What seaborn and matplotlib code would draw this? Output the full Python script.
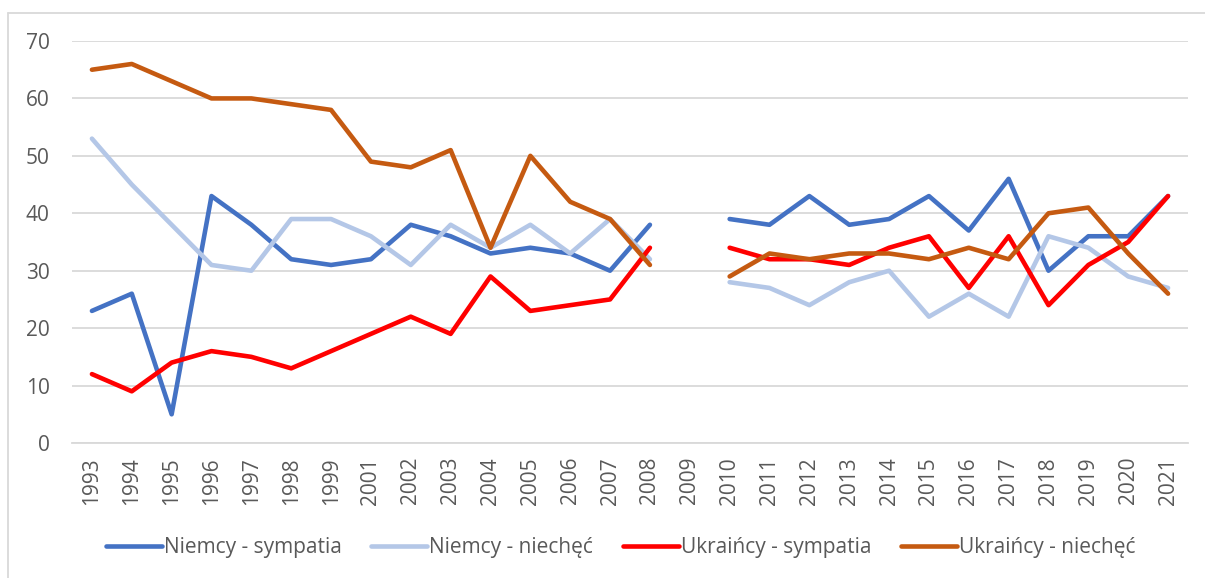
import numpy as np
import pandas as pd
import matplotlib.pyplot as plt
import seaborn as sns
from matplotlib.lines import Line2D

# --- Data ---
years = ['1993', '1994', '1995', '1996', '1997', '1998', '1999', '2001', '2002', '2003',
         '2004', '2005', '2006', '2007', '2008', '2009', '2010', '2011', '2012', '2013',
         '2014', '2015', '2016', '2017', '2018', '2019', '2020', '2021']

niemcy_sympatia = [23, 26, 5, 43, 38, 32, 31, 32, 38, 36, 33, 34, 33, 30, 38, np.nan,
                   39, 38, 43, 38, 39, 43, 37, 46, 30, 36, 36, 43]
niemcy_niechec = [53, 45, 38, 31, 30, 39, 39, 36, 31, 38, 34, 38, 33, 39, 32, np.nan,
                  28, 27, 24, 28, 30, 22, 26, 22, 36, 34, 29, 27]
ukraincy_sympatia = [12, 9, 14, 16, 15, 13, 16, 19, 22, 19, 29, 23, 24, 25, 34, np.nan,
                     34, 32, 32, 31, 34, 36, 27, 36, 24, 31, 35, 43]
ukraincy_niechec = [65, 66, 63, 60, 60, 59, 58, 49, 48, 51, 34, 50, 42, 39, 31, np.nan,
                    29, 33, 32, 33, 33, 32, 34, 32, 40, 41, 33, 26]

series_names = ['Niemcy - sympatia', 'Niemcy - niechęć', 'Ukraińcy - sympatia', 'Ukraińcy - niechęć']
series_values = [niemcy_sympatia, niemcy_niechec, ukraincy_sympatia, ukraincy_niechec]
colors = ['#4472C4', '#B4C7E7', '#FF0000', '#C55A11']

# long format; the 2009 gap splits each series into two segments
rows = []
for name, vals in zip(series_names, series_values):
    seg = 0
    for i, v in enumerate(vals):
        if np.isnan(v):
            seg += 1
            continue
        rows.append({'pos': i, 'value': v, 'series': name, 'segment': seg})
df = pd.DataFrame(rows)

# --- Plot ---
sns.set_style('white')
plt.rcParams['font.family'] = ['Open Sans', 'DejaVu Sans']

fig = plt.figure(figsize=(12.05, 5.78), dpi=100)
ax = fig.add_axes([72 / 1205, 1 - 443 / 578, (1188 - 72) / 1205, (443 - 41) / 578])

sns.lineplot(data=df, x='pos', y='value', hue='series', units='segment', estimator=None,
             hue_order=series_names, palette=colors, linewidth=3.3, legend=False, ax=ax,
             solid_capstyle='round', solid_joinstyle='round')

ax.set_xlim(-0.5, len(years) - 0.5)
ax.set_ylim(0, 70)
ax.set_yticks(range(0, 71, 10))
ax.set_xticks(range(len(years)))
ax.set_xticklabels(years, rotation=90)
ax.tick_params(axis='both', length=0, labelsize=15, colors='#595959')
ax.tick_params(axis='y', pad=16)
ax.tick_params(axis='x', pad=10)
ax.yaxis.grid(True, color='#D9D9D9', linewidth=1.3)
ax.set_axisbelow(True)
ax.set_xlabel('')
ax.set_ylabel('')
for side in ['top', 'right', 'left']:
    ax.spines[side].set_visible(False)
ax.spines['bottom'].set_color('#D9D9D9')
ax.spines['bottom'].set_linewidth(1.3)

handles = [Line2D([0], [0], color=c, linewidth=3.3, solid_capstyle='round') for c in colors]
fig.legend(handles, series_names, loc='center', bbox_to_anchor=(0.515, 0.052), ncol=4,
           frameon=False, fontsize=15, labelcolor='#595959', handlelength=2.7,
           handletextpad=0.1, columnspacing=1.4)

# chart area border (top and left edges visible)
fig.add_artist(Line2D([8 / 1205, 1], [1 - 13 / 578] * 2, color='#D9D9D9', linewidth=1.3))
fig.add_artist(Line2D([8 / 1205] * 2, [0, 1 - 13 / 578], color='#D9D9D9', linewidth=1.3))

fig.savefig('out.png', dpi=100)
